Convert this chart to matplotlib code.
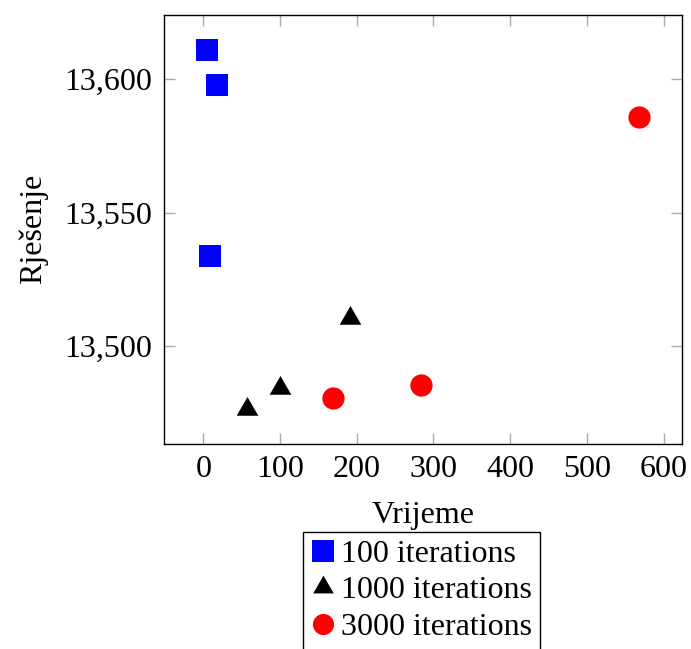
import numpy as np
import matplotlib
matplotlib.use("Agg")
from matplotlib import pyplot as plt
from matplotlib.ticker import FuncFormatter

plt.rcParams['font.family'] = ['Liberation Serif', 'DejaVu Serif']
plt.rcParams['mathtext.fontset'] = 'stix'

# data
time_100 = [4.8, 17.9, 9.1]
sol_100 = [13610.9, 13597.8, 13533.6]
time_1000 = [56.6, 100.0, 190.9]
sol_1000 = [13476.3, 13484.3, 13510.4]
time_3000 = [169.5, 283.4, 568.1]
sol_3000 = [13480.4, 13485.4, 13585.8]
labels = ['100 iterations', '1000 iterations', '3000 iterations']
x_ticks = [0, 100, 200, 300, 400, 500, 600]
y_ticks = [13500, 13550, 13600]

# pgfplots-like equilateral triangle
tri = [(0, 1), (-0.866, -0.5), (0.866, -0.5), (0, 1)]

fig = plt.figure(figsize=(6.91, 6.49), dpi=100)
ax = fig.add_axes([0.2369, 0.3159, 0.7505, 0.6614])

ax.plot(time_100, sol_100, ls='none', marker='s', ms=16, color='blue',
        mec='blue', mew=0, label=labels[0])
ax.plot(time_1000, sol_1000, ls='none', marker=tri, ms=18, color='black',
        mew=0, label=labels[1])
ax.plot(time_3000, sol_3000, ls='none', marker='o', ms=16, color='red',
        mew=0, label=labels[2])

ax.set_xlim(-51.6, 624.5)
ax.set_ylim(13463.3, 13624.2)
ax.set_xticks(x_ticks)
ax.set_yticks(y_ticks)
ax.yaxis.set_major_formatter(FuncFormatter(lambda v, p: '{:,.0f}'.format(v)))
ax.tick_params(direction='in', length=8, width=1, color='#aaaaaa',
               top=True, right=True, labelsize=23, pad=8)
for s in ax.spines.values():
    s.set_linewidth(1.0)

ax.set_xlabel('Vrijeme', fontsize=23, labelpad=12)
ax.set_ylabel('Rješenje', fontsize=23, labelpad=12)

leg = ax.legend(loc='upper center', bbox_to_anchor=(0.610, 0.1807),
                bbox_transform=fig.transFigure, fontsize=23, frameon=True,
                fancybox=False, edgecolor='black', framealpha=1,
                handlelength=0.75, handletextpad=0.2, labelspacing=0.22,
                borderpad=0.25, borderaxespad=0, numpoints=1, markerscale=0.95)
leg.get_frame().set_linewidth(1.0)

fig.savefig('out.png', dpi=100)
